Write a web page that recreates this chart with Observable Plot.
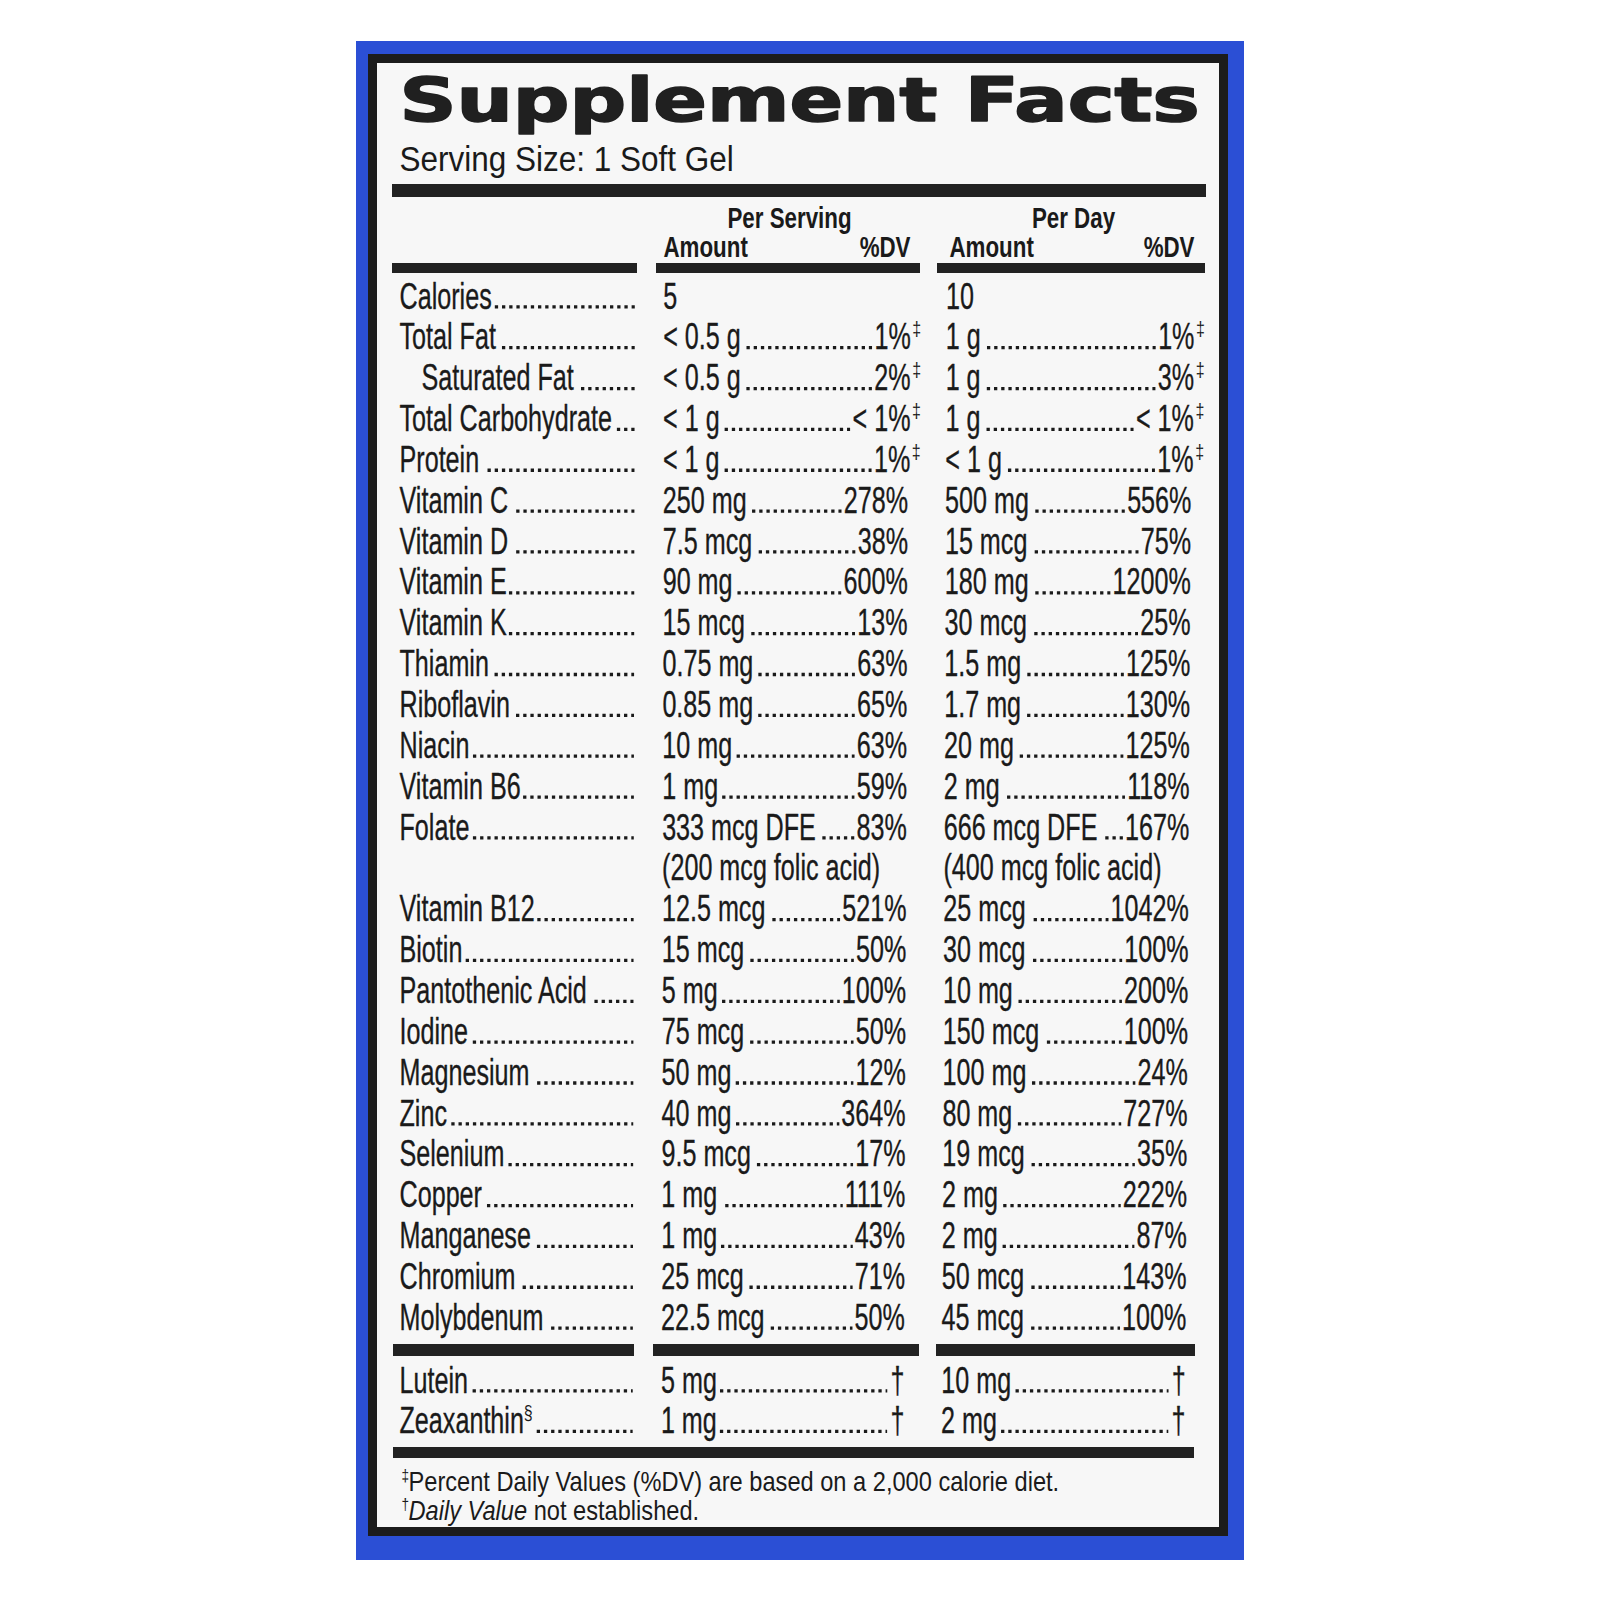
<!DOCTYPE html>
<html><head><meta charset="utf-8">
<script src="https://cdn.jsdelivr.net/npm/d3@7"></script>
<script src="https://cdn.jsdelivr.net/npm/@observablehq/plot@0.6"></script>
<style>html,body{margin:0;padding:0;background:#fff;} #chart svg{display:block}</style>
</head><body><div id="chart"></div>
<script>
// ---------- DATA ----------
const title = "Supplement Facts";
const servingSize = "Serving Size: 1 Soft Gel";
const columnGroups = ["Per Serving", "Per Day"];
const columnHeads = ["Amount", "%DV"];

const nutrients = ["Calories","Total Fat","Saturated Fat","Total Carbohydrate","Protein","Vitamin C","Vitamin D","Vitamin E","Vitamin K","Thiamin","Riboflavin","Niacin","Vitamin B6","Folate","","Vitamin B12","Biotin","Pantothenic Acid","Iodine","Magnesium","Zinc","Selenium","Copper","Manganese","Chromium","Molybdenum"];
const indented = ["Saturated Fat"];
const servingAmount = ["5","< 0.5 g","< 0.5 g","< 1 g","< 1 g","250 mg","7.5 mcg","90 mg","15 mcg","0.75 mg","0.85 mg","10 mg","1 mg","333 mcg DFE","(200 mcg folic acid)","12.5 mcg","15 mcg","5 mg","75 mcg","50 mg","40 mg","9.5 mcg","1 mg","1 mg","25 mcg","22.5 mcg"];
const servingDV = ["","1%‡","2%‡","< 1%‡","1%‡","278%","38%","600%","13%","63%","65%","63%","59%","83%","","521%","50%","100%","50%","12%","364%","17%","111%","43%","71%","50%"];
const dayAmount = ["10","1 g","1 g","1 g","< 1 g","500 mg","15 mcg","180 mg","30 mcg","1.5 mg","1.7 mg","20 mg","2 mg","666 mcg DFE","(400 mcg folic acid)","25 mcg","30 mcg","10 mg","150 mcg","100 mg","80 mg","19 mcg","2 mg","2 mg","50 mcg","45 mcg"];
const dayDV = ["","1%‡","3%‡","< 1%‡","1%‡","556%","75%","1200%","25%","125%","130%","125%","118%","167%","","1042%","100%","200%","100%","24%","727%","35%","222%","87%","143%","100%"];

const otherNames = ["Lutein","Zeaxanthin"];
const otherMarks = ["","§"];
const otherServing = ["5 mg","1 mg"];
const otherDay = ["10 mg","2 mg"];
const otherDV = ["†","†"];

const footnoteMarks = ["‡","†"];
const footnoteItalic = ["", "Daily Value"];
const footnoteText = ["Percent Daily Values (%DV) are based on a 2,000 calorie diet.", "not established."];

// ---------- LAYOUT / STYLE ----------
const ink = "#1a1a1a";
const FONT = "Liberation Sans";
const BODY = 37, SQ = 0.68;      // row text
const HEAD = 29, HSQ = 0.77;     // column headers
const SERV = 35, SSQ = 0.9;      // serving size
const FOOT = 27, FSQ = 0.875;    // footnotes
const SUP = 20, SUPSQ = 0.8;
const rowTop = 308, rowStep = 40.85;
const otherTop = 1392, otherStep = 40.5;
const labelX = 399, indentX = 421, labelLeaderEnd = 635;
const amtX = [663, 946], dvEnd = [909, 1193];
const dotD = 3.3, dotP = 7.2;

const canvas = document.createElement("canvas");
const ctx = canvas.getContext("2d");
function tw(text, size, squeeze, weight = "normal", style = "normal", family = FONT) {
  ctx.font = `${style} ${weight} ${size}px "${family}"`;
  return ctx.measureText(text).width * squeeze;
}
// slight keystone of the photographed label
const warp = (x, y) => x - (x - 399) * 0.8e-5 * (y - 190);

const body = [], sups = [], leaders = [];
function leader(a0, b, y) {
  const n = Math.floor((b - dotD - a0) / dotP) + 1;
  if (n < 1) return;
  const a = b - dotD - (n - 1) * dotP;
  leaders.push({x1: warp(a, y), x2: warp(b, y), y: y - dotD / 2});
}

const amounts = [servingAmount, dayAmount], dvs = [servingDV, dayDV];
nutrients.forEach((name, i) => {
  const y = rowTop + i * rowStep;
  if (name) {
    const lx = indented.includes(name) ? indentX : labelX;
    body.push({x: warp(lx, y), y, text: name, anchor: "start"});
    leader(lx + tw(name, BODY, SQ) + 3, labelLeaderEnd, y);
  }
  [0, 1].forEach(c => {
    const amt = amounts[c][i], dv = dvs[c][i];
    body.push({x: warp(amtX[c], y), y, text: amt, anchor: "start"});
    if (dv) {
      const dag = dv.endsWith("‡");
      const val = dag ? dv.slice(0, -1) : dv;
      const ex = dvEnd[c] + (dag ? 2 : 0);
      body.push({x: warp(ex, y), y, text: val, anchor: "end"});
      if (dag) sups.push({x: warp(ex + 1.5, y), y: y - 13, text: "‡"});
      leader(amtX[c] + tw(amt, BODY, SQ) + 3, ex - tw(val, BODY, SQ) - 2, y);
    }
  });
});
otherNames.forEach((name, j) => {
  const y = otherTop + j * otherStep;
  body.push({x: warp(labelX, y), y, text: name, anchor: "start"});
  let end = labelX + tw(name, BODY, SQ);
  if (otherMarks[j]) {
    sups.push({x: warp(end + 1, y), y: y - 13, text: otherMarks[j]});
    end += tw(otherMarks[j], SUP, SUPSQ) + 1;
  }
  leader(end + 3, labelLeaderEnd, y);
  [otherServing, otherDay].forEach((arr, c) => {
    body.push({x: warp(amtX[c], y), y, text: arr[j], anchor: "start"});
    const ex = dvEnd[c];
    body.push({x: warp(ex, y), y, text: otherDV[j], anchor: "end"});
    leader(amtX[c] + tw(arr[j], BODY, SQ) + 3, ex - tw(otherDV[j], BODY, SQ) - 3, y);
  });
});

const foot = [], footIt = [], footSup = [];
footnoteText.forEach((t, k) => {
  const y = 1490 + k * 29;
  footSup.push({x: 401, y: y - 10, text: footnoteMarks[k]});
  let x = 408;
  if (footnoteItalic[k]) {
    footIt.push({x, y, text: footnoteItalic[k]});
    x += tw(footnoteItalic[k], FOOT, FSQ, "normal", "italic") + tw(" ", FOOT, FSQ);
  }
  foot.push({x, y, text: t});
});

const groupHeads = [
  {x: 789, y: 227, text: columnGroups[0]},
  {x: 1073, y: 227, text: columnGroups[1]}
];
const amountHeads = [
  {x: 663, y: 256, text: columnHeads[0]},
  {x: 949, y: 256, text: columnHeads[0]}
];
const dvHeads = [
  {x: 910, y: 256, text: columnHeads[1]},
  {x: 1194, y: 256, text: columnHeads[1]}
];

const panels = [
  {x1: 356, x2: 1244, y1: 41, y2: 1560, fill: "#2b4fd5"},
  {x1: 368, x2: 1228, y1: 54, y2: 1536, fill: "#1c1c1c"},
  {x1: 377, x2: 1219, y1: 63, y2: 1527, fill: "#f7f7f7"}
];
const rules = [
  {x1: 392, x2: 1206, y1: 184, y2: 197},
  {x1: 392, x2: 637, y1: 263, y2: 273},
  {x1: 656, x2: 920, y1: 263, y2: 273},
  {x1: 937, x2: 1205, y1: 263, y2: 273},
  {x1: 393, x2: 634, y1: 1344, y2: 1356},
  {x1: 653, x2: 919, y1: 1344, y2: 1356},
  {x1: 936, x2: 1195, y1: 1344, y2: 1356},
  {x1: 393, x2: 1194, y1: 1447, y2: 1458}
];

const T = (data, tag, opts) => Plot.text(data, {
  x: "x", y: "y", text: "text", textAnchor: "start", lineAnchor: "bottom",
  fontFamily: FONT, fill: ink, ariaLabel: () => tag, ...opts
});

const plot = Plot.plot({
  width: 1600, height: 1600, margin: 0,
  x: {domain: [0, 1600], range: [0, 1600], axis: null},
  y: {domain: [0, 1600], range: [0, 1600], axis: null},
  style: {background: "white"},
  marks: [
    Plot.rect(panels, {x1: "x1", x2: "x2", y1: "y1", y2: "y2", fill: d => d.fill}),
    Plot.rect(rules, {x1: "x1", x2: "x2", y1: "y1", y2: "y2", fill: "#222"}),
    T([{x: 399, y: 120, text: title}], "title", {fontFamily: "DejaVu Sans", fontWeight: "bold", fontSize: 60, fill: "#202020", stroke: "#202020", strokeWidth: 1.6}),
    T([{x: 399, y: 170, text: servingSize}], "serving", {fontSize: SERV}),
    T(groupHeads, "header", {textAnchor: "middle", fontWeight: "bold", fontSize: HEAD}),
    T(amountHeads, "header", {textAnchor: "start", fontWeight: "bold", fontSize: HEAD}),
    T(dvHeads, "header", {textAnchor: "end", fontWeight: "bold", fontSize: HEAD}),
    T(body.filter(d => d.anchor === "start"), "body", {fontSize: BODY, stroke: ink, strokeWidth: 0.35}),
    T(body.filter(d => d.anchor === "end"), "body", {textAnchor: "end", fontSize: BODY, stroke: ink, strokeWidth: 0.35}),
    T(sups, "sup", {fontSize: SUP}),
    Plot.ruleY(leaders, {y: "y", x1: "x1", x2: "x2", stroke: ink, strokeWidth: dotD, strokeDasharray: `${dotD},${dotP - dotD}`}),
    T(foot, "foot", {fontSize: FOOT}),
    T(footIt, "foot", {fontSize: FOOT, fontStyle: "italic"}),
    T(footSup, "sup", {fontSize: 17})
  ]
});

function squeeze(svg, tag, s) {
  svg.querySelectorAll(`text[aria-label="${tag}"]`).forEach(t => {
    t.setAttribute("transform", (t.getAttribute("transform") || "") + ` scale(${s},1)`);
  });
}
squeeze(plot, "body", SQ);
squeeze(plot, "header", HSQ);
squeeze(plot, "serving", SSQ);
squeeze(plot, "foot", FSQ);
squeeze(plot, "sup", SUPSQ);
plot.querySelectorAll('text[aria-label="title"]').forEach(t => {
  t.setAttribute("textLength", 800);
  t.setAttribute("lengthAdjust", "spacingAndGlyphs");
});
document.getElementById("chart").appendChild(plot);
</script>
</body></html>
